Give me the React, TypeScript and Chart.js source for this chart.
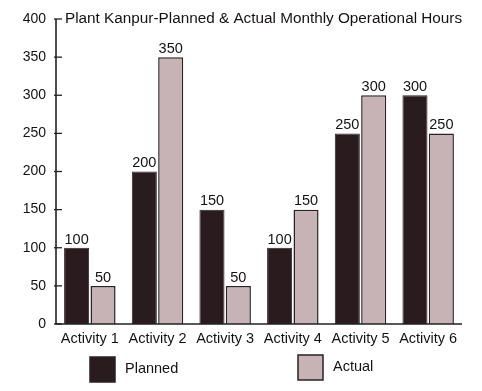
import React, { useEffect, useRef } from "react";
import { Chart, registerables } from "chart.js";

Chart.register(...registerables);

const categories = ["Activity 1", "Activity 2", "Activity 3", "Activity 4", "Activity 5", "Activity 6"];
const planned = [100, 200, 150, 100, 250, 300];
const actual = [50, 350, 50, 150, 300, 250];
const yTicks = [0, 50, 100, 150, 200, 250, 300, 350, 400];
const titleText = "Plant Kanpur-Planned & Actual Monthly Operational Hours";
const seriesNames = ["Planned", "Actual"];

const FONT = "'Liberation Sans', Arial, sans-serif";
const TEXT = "#161213";
const PLANNED_COLOR = "#2a1b1e";
const ACTUAL_COLOR = "#c7b2b5";
const BORDER = "#2a2224";

const overlay = {
  id: "overlay",
  afterDraw(chart: any) {
    const { ctx, chartArea, scales } = chart;
    const y = scales.y;
    ctx.save();
    // axes
    ctx.strokeStyle = "#222";
    ctx.lineWidth = 1.6;
    ctx.beginPath();
    ctx.moveTo(chartArea.left, y.getPixelForValue(400));
    ctx.lineTo(chartArea.left, chartArea.bottom);
    ctx.lineTo(chartArea.right, chartArea.bottom);
    ctx.stroke();
    ctx.lineWidth = 1.3;
    yTicks.forEach((v) => {
      const py = y.getPixelForValue(v);
      ctx.beginPath();
      ctx.moveTo(chartArea.left - 2, py);
      ctx.lineTo(chartArea.left + 6, py);
      ctx.stroke();
    });
    // title
    ctx.fillStyle = TEXT;
    ctx.font = `15.3px ${FONT}`;
    ctx.textAlign = "left";
    ctx.textBaseline = "middle";
    ctx.fillText(titleText, chartArea.left + 9, y.getPixelForValue(400));
    // value labels
    ctx.font = `14.5px ${FONT}`;
    ctx.textAlign = "center";
    ctx.textBaseline = "bottom";
    chart.data.datasets.forEach((ds: any, di: number) => {
      const meta = chart.getDatasetMeta(di);
      meta.data.forEach((bar: any, i: number) => {
        ctx.fillText(String(ds.data[i]), bar.x, bar.y - 1);
      });
    });
    // legend
    const items = [
      { x: 90, y: 357, color: PLANNED_COLOR, label: seriesNames[0] },
      { x: 298, y: 355, color: ACTUAL_COLOR, label: seriesNames[1] },
    ];
    items.forEach((it) => {
      ctx.fillStyle = it.color;
      ctx.fillRect(it.x, it.y, 25, 25);
      ctx.strokeStyle = BORDER;
      ctx.lineWidth = 1.5;
      ctx.strokeRect(it.x, it.y, 25, 25);
      ctx.fillStyle = TEXT;
      ctx.font = `14.5px ${FONT}`;
      ctx.textAlign = "left";
      ctx.textBaseline = "middle";
      ctx.fillText(it.label, it.x + 35, it.y + 12);
    });
    ctx.restore();
  },
};

export default function App() {
  const ref = useRef<HTMLCanvasElement>(null);
  useEffect(() => {
    document.body.style.margin = "0";
    const chart = new Chart(ref.current as HTMLCanvasElement, {
      type: "bar",
      data: {
        labels: categories,
        datasets: [
          {
            label: seriesNames[0],
            data: planned,
            backgroundColor: PLANNED_COLOR,
            borderColor: BORDER,
            borderWidth: 1,
            categoryPercentage: 0.78,
            barPercentage: 0.95,
          },
          {
            label: seriesNames[1],
            data: actual,
            backgroundColor: ACTUAL_COLOR,
            borderColor: BORDER,
            borderWidth: 1.5,
            categoryPercentage: 0.78,
            barPercentage: 0.95,
          },
        ],
      },
      options: {
        animation: false,
        responsive: false,
        layout: { padding: { top: 19, right: 20, bottom: 0, left: 0 } },
        plugins: { legend: { display: false }, tooltip: { enabled: false }, title: { display: false } },
        scales: {
          x: {
            grid: { display: false, drawTicks: false },
            border: { display: false },
            ticks: { color: TEXT, font: { family: FONT, size: 14.5 }, padding: 6, maxRotation: 0 },
            afterFit: (s: any) => { s.height = 67; },
          },
          y: {
            min: 0,
            max: 400,
            grid: { display: false, drawTicks: false },
            border: { display: false },
            ticks: { stepSize: 50, color: TEXT, font: { family: FONT, size: 14 }, padding: 10 },
            afterFit: (s: any) => { s.width = 56; },
          },
        },
      },
      plugins: [overlay],
    });
    return () => chart.destroy();
  }, []);
  return <canvas ref={ref} width={482} height={391} style={{ display: "block" }} />;
}
